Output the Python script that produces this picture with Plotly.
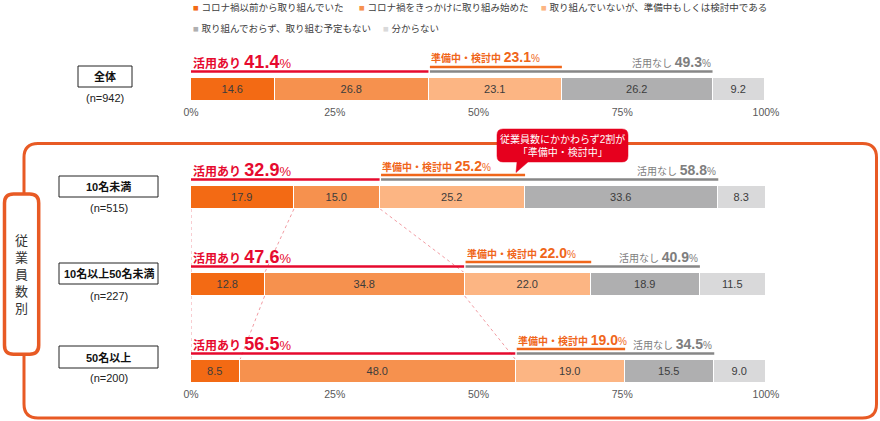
import plotly.graph_objects as go

# ---------------- data ----------------
groups = ["全体", "10名未満", "10名以上50名未満", "50名以上"]
sample_sizes = [942, 515, 227, 200]
series_names = [
    "コロナ禍以前から取り組んでいた",
    "コロナ禍をきっかけに取り組み始めた",
    "取り組んでいないが、準備中もしくは検討中である",
    "取り組んでおらず、取り組む予定もない",
    "分からない",
]
before_covid = [14.6, 17.9, 12.8, 8.5]
since_covid = [26.8, 15.0, 34.8, 48.0]
preparing = [23.1, 25.2, 22.0, 19.0]
no_plan = [26.2, 33.6, 18.9, 15.5]
unknown = [9.2, 8.3, 11.5, 9.0]
tick_values = [0, 25, 50, 75, 100]
tick_labels = ["0%", "25%", "50%", "75%", "100%"]
label_using = "活用あり"
label_prep = "準備中・検討中"
label_not = "活用なし"
callout_lines = ["従業員数にかかわらず2割が", "「準備中・検討中」"]
side_label = "従業員数別"

series_values = [before_covid, since_covid, preparing, no_plan, unknown]

# ---------------- styles / layout ----------------
W, H = 880, 421
X0, X1 = 191, 766
colors = ["#F36A14", "#F6914E", "#FCB583", "#AFAFB0", "#D9D9DA"]
RED, ORANGE, GREY = "#E60A2E", "#F0661A", "#7E7E7E"
FRAME = "#E85A24"
FONT = "Liberation Sans, Arial, Noto Sans CJK JP, sans-serif"
row_y = [89.5, 197.5, 284.5, 371.5]          # pixel centre of each bar
bar_h = 23
top_panel = (40, 104)
bot_panel = (140, 386)
box_px = [(78, 66, 132, 87), (59, 176, 158, 197), (59, 263, 158, 284), (59, 346, 158, 368)]
n_y = [98, 208, 296, 378]
legend_pos = [(191, 7), (357, 7), (539, 7), (191, 28), (381, 28)]


def px(x):
    return x / W


def py(y):
    return 1 - y / H


def P(x, y):
    return f"{px(x):.5f},{py(y):.5f}"


def rounded_rect(x0, y0, x1, y1, r):
    return (f"M{P(x0 + r, y0)} L{P(x1 - r, y0)} Q{P(x1, y0)} {P(x1, y0 + r)} "
            f"L{P(x1, y1 - r)} Q{P(x1, y1)} {P(x1 - r, y1)} L{P(x0 + r, y1)} "
            f"Q{P(x0, y1)} {P(x0, y1 - r)} L{P(x0, y0 + r)} Q{P(x0, y0)} {P(x0 + r, y0)} Z")


fig = go.Figure()

for k in range(5):
    vals = series_values[k]
    for panel, idx in (("", [0]), ("2", [1, 2, 3])):
        fig.add_trace(go.Bar(
            x=[vals[i] for i in idx],
            y=[row_y[i] for i in idx],
            orientation="h",
            xaxis="x" + panel, yaxis="y" + panel,
            width=bar_h,
            marker=dict(color=colors[k], line=dict(color="white", width=1.5)),
            text=[f"{vals[i]:.1f}" for i in idx],
            textposition="inside", insidetextanchor="middle", textangle=0,
            textfont=dict(size=11, color="#3C3C3C", family=FONT),
            name=series_names[k], showlegend=False, hoverinfo="skip",
        ))

shapes = []
annotations = []

# summary lines + labels
for i in range(4):
    xr, yr = ("x", "y") if i == 0 else ("x2", "y2")
    using = round(before_covid[i] + since_covid[i], 1)
    prep = preparing[i]
    notusing = round(preparing[i] + no_plan[i], 1)
    c = row_y[i]
    top = c - bar_h / 2
    shapes.append(dict(type="line", xref=xr, yref=yr, x0=0, x1=using - 0.1, y0=top - 6.5, y1=top - 6.5,
                       line=dict(color=RED, width=2.5)))
    shapes.append(dict(type="line", xref=xr, yref=yr, x0=using + 0.15, x1=using + notusing,
                       y0=top - 6.5, y1=top - 6.5, line=dict(color="#878787", width=2.5)))
    shapes.append(dict(type="line", xref=xr, yref=yr, x0=using + 0.15, x1=using + prep,
                       y0=top - 11, y1=top - 11, line=dict(color=ORANGE, width=2.5)))
    annotations.append(dict(
        xref=xr, yref=yr, x=0, y=c - 27.5, xanchor="left", yanchor="middle", showarrow=False,
        text=f"<b>{label_using}</b> <b><span style='font-size:18px'>{using:.1f}</span></b>"
             f"<span style='font-size:13px'>%</span>",
        font=dict(size=12, color=RED, family=FONT)))
    annotations.append(dict(
        xref=xr, yref=yr, x=using, y=c - 32, xanchor="left", yanchor="middle", showarrow=False,
        text=f"<b>{label_prep}</b> <b><span style='font-size:14px'>{prep:.1f}</span></b>"
             f"<span style='font-size:10px'>%</span>",
        font=dict(size=10, color=ORANGE, family=FONT)))
    annotations.append(dict(
        xref=xr, yref=yr, x=using + notusing, y=c - 27.5, xanchor="right", yanchor="middle",
        showarrow=False,
        text=f"{label_not} <b><span style='font-size:14px'>{notusing:.1f}</span></b>"
             f"<span style='font-size:10px'>%</span>",
        font=dict(size=10, color=GREY, family=FONT)))

# dotted connectors between employee-size rows
for i in (1, 2):
    b = row_y[i] + bar_h / 2
    t = row_y[i + 1] - bar_h / 2
    u0 = before_covid[i] + since_covid[i]
    u1 = before_covid[i + 1] + since_covid[i + 1]
    for xa, xb in ((0, 0), (before_covid[i], before_covid[i + 1]), (u0, u1)):
        shapes.append(dict(type="line", xref="x2", yref="y2", x0=xa, x1=xb, y0=b, y1=t,
                           line=dict(color="#F29CA3", width=1, dash="dot"), layer="below"))

# big frame
shapes.append(dict(type="path", xref="paper", yref="paper",
                   path=rounded_rect(24, 143.5, 876.5, 418, 14),
                   line=dict(color=FRAME, width=3)))
# side label box
shapes.append(dict(type="path", xref="paper", yref="paper",
                   path=rounded_rect(4.5, 194, 38.7, 354.3, 9),
                   fillcolor="white", line=dict(color=FRAME, width=3.5)))
annotations.append(dict(xref="paper", yref="paper", x=px(21.6), y=py(274),
                        xanchor="center", yanchor="middle", showarrow=False,
                        text="<br>".join(list(side_label)),
                        font=dict(size=13, color="#333333", family=FONT)))

# group label boxes
for i in range(4):
    x0, y0, x1, y1 = box_px[i]
    shapes.append(dict(type="rect", xref="paper", yref="paper", x0=px(x0), x1=px(x1),
                       y0=py(y0), y1=py(y1), line=dict(color="#222222", width=1)))
    annotations.append(dict(xref="paper", yref="paper", x=px((x0 + x1) / 2), y=py((y0 + y1) / 2),
                            xanchor="center", yanchor="middle", showarrow=False,
                            text=f"<b>{groups[i]}</b>", font=dict(size=11, color="#111111", family=FONT)))
    annotations.append(dict(xref="paper", yref="paper", x=px((x0 + x1) / 2), y=py(n_y[i]),
                            xanchor="center", yanchor="middle", showarrow=False,
                            text=f"(n={sample_sizes[i]})", font=dict(size=11, color="#222222", family=FONT)))

# callout
cx0, cy0, cx1, cy1, cr = 497, 129, 628, 162, 6
callout_path = (f"M{P(cx0 + cr, cy0)} L{P(cx1 - cr, cy0)} Q{P(cx1, cy0)} {P(cx1, cy0 + cr)} "
                f"L{P(cx1, cy1 - cr)} Q{P(cx1, cy1)} {P(cx1 - cr, cy1)} L{P(528, cy1)} L{P(516, 172.5)} "
                f"L{P(517, cy1)} L{P(cx0 + cr, cy1)} Q{P(cx0, cy1)} {P(cx0, cy1 - cr)} "
                f"L{P(cx0, cy0 + cr)} Q{P(cx0, cy0)} {P(cx0 + cr, cy0)} Z")
shapes.append(dict(type="path", xref="paper", yref="paper", path=callout_path,
                   fillcolor="#E6001E", line=dict(color="#E6001E", width=0.5)))
annotations.append(dict(xref="paper", yref="paper", x=px((cx0 + cx1) / 2), y=py((cy0 + cy1) / 2),
                        xanchor="center", yanchor="middle", showarrow=False,
                        text="<br>".join(callout_lines),
                        font=dict(size=10, color="white", family=FONT)))

# legend (as text)
for k in range(5):
    lx, ly = legend_pos[k]
    annotations.append(dict(xref="paper", yref="paper", x=px(lx), y=py(ly),
                            xanchor="left", yanchor="middle", showarrow=False,
                            text=f"<span style='color:{colors[k]}'>■</span> {series_names[k]}",
                            font=dict(size=9.5, color="#404040", family=FONT)))

axis_common = dict(range=[0, 100], domain=[px(X0), px(X1)], tickvals=tick_values, ticktext=tick_labels,
                   showgrid=False, zeroline=False, showline=False, ticks="", automargin=False,
                   tickfont=dict(size=10.5, color="#595959", family=FONT), fixedrange=True)
yaxis_common = dict(showgrid=False, zeroline=False, showline=False, showticklabels=False,
                    fixedrange=True, automargin=False)

fig.update_layout(
    width=W, height=H, autosize=False,
    margin=dict(l=0, r=0, t=0, b=0, pad=0, autoexpand=False),
    paper_bgcolor="white", plot_bgcolor="rgba(0,0,0,0)",
    barmode="stack", bargap=0,
    showlegend=False,
    font=dict(family=FONT),
    xaxis=dict(anchor="y", **axis_common),
    yaxis=dict(anchor="x", domain=[py(top_panel[1]), py(top_panel[0])],
               range=[top_panel[1], top_panel[0]], **yaxis_common),
    xaxis2=dict(anchor="y2", **axis_common),
    yaxis2=dict(anchor="x2", domain=[py(bot_panel[1]), py(bot_panel[0])],
                range=[bot_panel[1], bot_panel[0]], **yaxis_common),
    shapes=shapes,
    annotations=annotations,
)

fig.write_html("out.html", config={"responsive": False, "displayModeBar": False},
               post_script="document.body.style.margin='0';document.body.style.overflow='hidden';")
